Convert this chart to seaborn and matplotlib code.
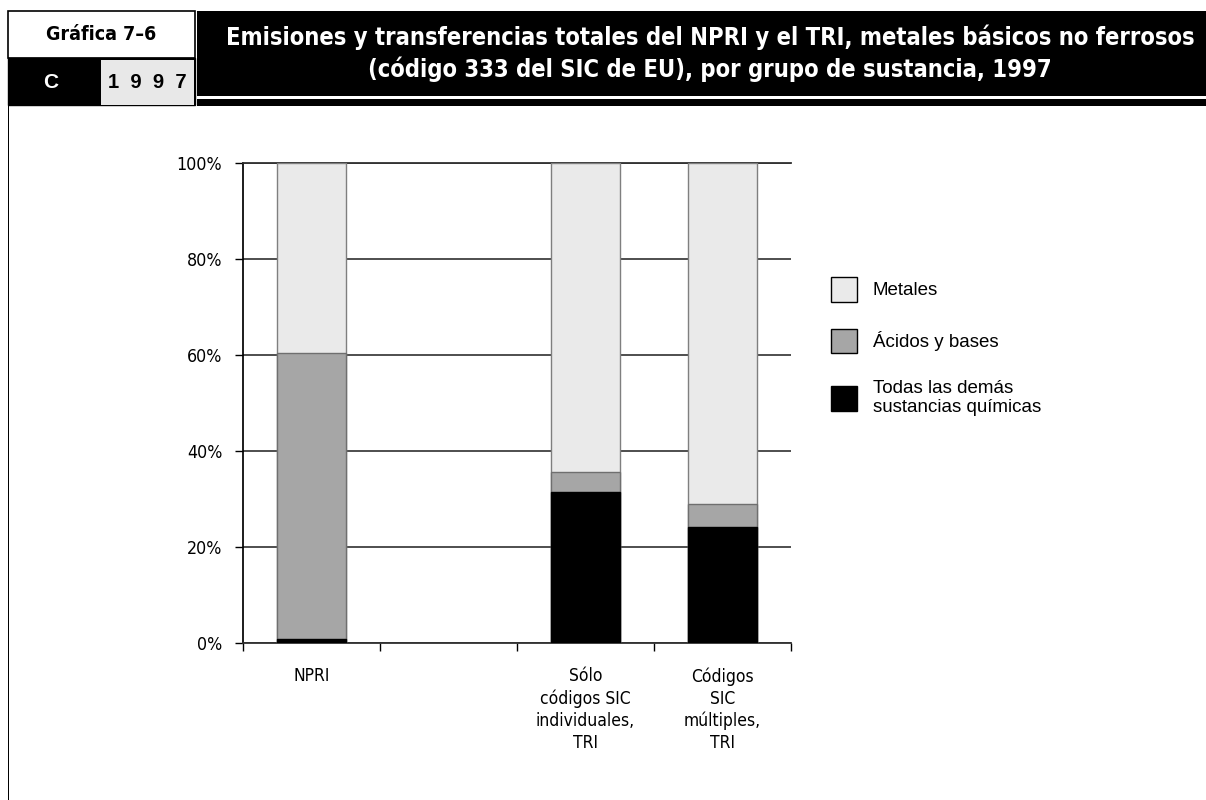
import numpy as np
import pandas as pd
import matplotlib
matplotlib.use('Agg')
import matplotlib.pyplot as plt
from matplotlib.patches import Rectangle, Patch
from matplotlib.ticker import FixedLocator
import seaborn as sns

# Data (percent of total releases and transfers)
categories = ['NPRI',
              'Sólo\ncódigos SIC\nindividuales,\nTRI',
              'Códigos\nSIC\nmúltiples,\nTRI']
slot_order = [categories[0], '', categories[1], categories[2]]
metales = [39.6, 64.3, 71.1]
acidos = [59.5, 4.2, 4.7]
otras = [0.9, 31.5, 24.2]
series_labels = ['Metales', 'Ácidos y bases', 'Todas las demás\nsustancias químicas']
series_colors = ['#EAEAEA', '#A6A6A6', '#000000']
y_ticks = [0, 20, 40, 60, 80, 100]

sns.set_theme(style='white')
# condensed DejaVu stands in for the narrow face of the original
plt.rcParams['font.family'] = ['DejaVu Sans']
plt.rcParams['font.stretch'] = 'condensed'
plt.rcParams['text.color'] = 'black'
plt.rcParams['xtick.color'] = 'black'
plt.rcParams['ytick.color'] = 'black'
ARIAL = ['Liberation Sans', 'DejaVu Sans']

df = pd.DataFrame({'grupo': categories, 'metales': metales,
                   'acidos': acidos, 'otras': otras})
df['tope_acidos'] = df['acidos'] + df['otras']
df['tope_metales'] = df['metales'] + df['tope_acidos']

W, H = 1206, 800
fig = plt.figure(figsize=(W / 100, H / 100), dpi=100)
fig.patch.set_facecolor('white')

def px_rect(x0, y0, x1, y1, **kw):
    # rectangle in pixel coords measured from the top-left
    fig.patches.append(Rectangle((x0 / W, 1 - y1 / H), (x1 - x0) / W, (y1 - y0) / H,
                                 transform=fig.transFigure, figure=fig, **kw))

# Header blocks
px_rect(8, 11, 195, 58, facecolor='white', edgecolor='black', lw=1.2)
px_rect(8, 58, 195, 105, facecolor='black', edgecolor='black', lw=1)
px_rect(101, 60, 194, 105, facecolor='#E8E8E8', edgecolor='none')
px_rect(197, 11, W, 96, facecolor='black', edgecolor='none')
px_rect(197, 99, W, 106, facecolor='black', edgecolor='none')
px_rect(7.5, 105, 9, H, facecolor='black', edgecolor='none')

fig.text(101 / W, 1 - 35 / H, 'Gráfica 7–6', ha='center', va='center',
         fontsize=14, fontweight='bold')
fig.text(51 / W, 1 - 82 / H, 'C', ha='center', va='center', fontsize=15,
         fontweight='bold', color='white', family=ARIAL, stretch='normal')
fig.text(147 / W, 1 - 82 / H, '1  9  9  7', ha='center', va='center', fontsize=14.5,
         fontweight='bold', family=ARIAL, stretch='normal')
fig.text(710 / W, 1 - 53 / H,
         'Emisiones y transferencias totales del NPRI y el TRI, metales básicos no ferrosos\n'
         '(código 333 del SIC de EU), por grupo de sustancia, 1997',
         ha='center', va='center', fontsize=17, fontweight='bold', color='white',
         linespacing=1.3)

# Chart
ax = fig.add_axes([243 / W, 157 / H, 548 / W, 480 / H])
common = dict(data=df, x='grupo', order=slot_order, width=0.51,
              saturation=1, ax=ax, zorder=3)
sns.barplot(y='tope_metales', color=series_colors[0], edgecolor='#7F7F7F', linewidth=1, **common)
sns.barplot(y='tope_acidos', color=series_colors[1], edgecolor='#6F6F6F', linewidth=1, **common)
sns.barplot(y='otras', color=series_colors[2], edgecolor='black', linewidth=1, **common)

ax.set_xlim(-0.5, 3.5)
ax.set_ylim(0, 100)
ax.set_xlabel('')
ax.set_ylabel('')
ax.set_yticks(y_ticks)
ax.set_yticklabels([f'{v}%' for v in y_ticks], fontsize=12.8)
ax.set_xticks(range(len(slot_order)))
ax.set_xticklabels(slot_order, fontsize=12.5, linespacing=1.28)
ax.xaxis.set_minor_locator(FixedLocator(np.arange(-0.5, 4, 1)))
ax.tick_params(axis='x', which='major', length=0, pad=17.5)
ax.tick_params(axis='x', which='minor', length=6, width=1, color='black', direction='out', bottom=True)
ax.tick_params(axis='y', length=6, width=1, color='black', direction='out', left=True, pad=9)

ax.yaxis.grid(True, color='#404040', lw=1.3)
ax.xaxis.grid(False)
ax.set_axisbelow(True)
ax.set_facecolor('white')
ax.spines['right'].set_visible(False)
ax.spines['top'].set_color('#303030')
ax.spines['top'].set_linewidth(1.3)
ax.spines['left'].set_color('black')
ax.spines['bottom'].set_color('#303030')
ax.spines['bottom'].set_linewidth(1.3)

handles = [Patch(facecolor=c, edgecolor='black', lw=1) for c in series_colors]
leg = fig.legend(handles, series_labels, loc='upper left',
                 bbox_to_anchor=(831 / W, 1 - 277 / H), bbox_transform=fig.transFigure,
                 frameon=False, borderpad=0, borderaxespad=0,
                 handlelength=1.39, handleheight=1.64, handletextpad=0.85,
                 labelspacing=1.44,
                 prop={'family': ARIAL, 'size': 13.5, 'stretch': 'normal'})
for t in leg.get_texts():
    t.set_linespacing(1.15)

fig.savefig('out.png', dpi=100, facecolor='white')
